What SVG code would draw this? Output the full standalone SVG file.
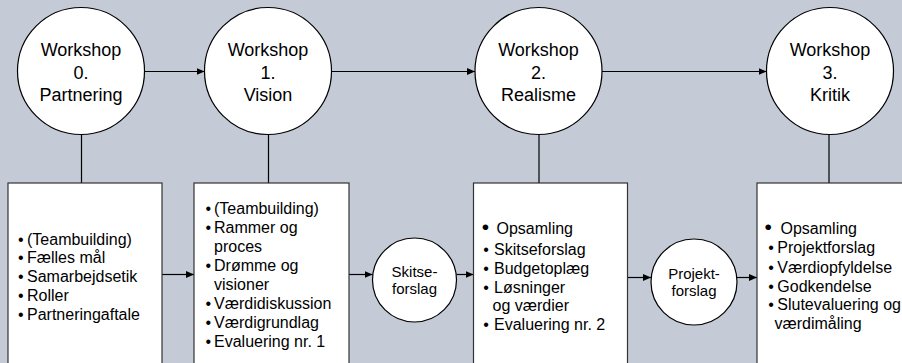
<svg xmlns="http://www.w3.org/2000/svg" width="902" height="363" viewBox="0 0 902 363">
<defs>
<marker id="ah" markerUnits="userSpaceOnUse" markerWidth="9" markerHeight="8" refX="8" refY="3.5" orient="auto">
<path d="M0,0 L8,3.5 L0,7 z" fill="#000"/>
</marker>
<style>
.bg{fill:#C4CAD6}
.ws{fill:#fff;stroke:#000;stroke-width:1.2}
.box{fill:#fff;stroke:#333;stroke-width:1.2}
.t{font-family:"Liberation Sans",Arial,sans-serif;fill:#000}
.big{font-size:18px;text-anchor:middle}
.sm{font-size:15px;text-anchor:middle}
.li{font-size:16px}
.bb{font-size:21px}
.c{stroke:#000;stroke-width:1.2;fill:none}
.a{marker-end:url(#ah)}
</style>
</defs>
<rect class="bg" x="0" y="0" width="902" height="363"/>

<g id="connectors">
<line class="c a" x1="144.5" y1="71.5" x2="204.5" y2="71.5"/>
<line class="c a" x1="331.5" y1="71.5" x2="475" y2="71.5"/>
<line class="c a" x1="601.5" y1="71.5" x2="766.5" y2="71.5"/>
<line class="c" x1="81.5" y1="135" x2="81.5" y2="183"/>
<line class="c" x1="268.5" y1="135" x2="268.5" y2="183"/>
<line class="c" x1="539" y1="135" x2="539" y2="183"/>
<line class="c" x1="829" y1="135" x2="829" y2="183"/>
<line class="c a" x1="162" y1="274.5" x2="194" y2="274.5"/>
<line class="c a" x1="349" y1="274.5" x2="372.5" y2="274.5"/>
<line class="c a" x1="456.5" y1="274.5" x2="473.5" y2="274.5"/>
<line class="c a" x1="627.5" y1="277.5" x2="651" y2="277.5"/>
<line class="c a" x1="737" y1="277.5" x2="757" y2="277.5"/>
</g>

<g id="ws0">
<circle class="ws" cx="81" cy="71" r="63.5"/>
<text class="t big" x="81" y="56">Workshop</text>
<text class="t big" x="81" y="78.5">0.</text>
<text class="t big" x="81" y="100.5">Partnering</text>
</g>
<g id="ws1">
<circle class="ws" cx="268" cy="71" r="63.5"/>
<text class="t big" x="268" y="56">Workshop</text>
<text class="t big" x="268" y="78.5">1.</text>
<text class="t big" x="268" y="100.5">Vision</text>
</g>
<g id="ws2">
<circle class="ws" cx="538.5" cy="71" r="63.5"/>
<text class="t big" x="538.5" y="56">Workshop</text>
<text class="t big" x="538.5" y="78.5">2.</text>
<text class="t big" x="538.5" y="100.5">Realisme</text>
</g>
<g id="ws3">
<circle class="ws" cx="830" cy="71" r="63.5"/>
<text class="t big" x="830" y="56">Workshop</text>
<text class="t big" x="830" y="78.5">3.</text>
<text class="t big" x="830" y="100.5">Kritik</text>
</g>

<g id="box0">
<rect class="box" x="8" y="183" width="154" height="190"/>
<text class="t li" x="18" y="244.5">•</text><text class="t li" x="27" y="244.5">(Teambuilding)</text>
<text class="t li" x="18" y="263">•</text><text class="t li" x="27" y="263">Fælles mål</text>
<text class="t li" x="18" y="282">•</text><text class="t li" x="27" y="282">Samarbejdsetik</text>
<text class="t li" x="18" y="301">•</text><text class="t li" x="27" y="301">Roller</text>
<text class="t li" x="18" y="320">•</text><text class="t li" x="27" y="320">Partneringaftale</text>
</g>

<g id="box1">
<rect class="box" x="194" y="183" width="155" height="190"/>
<text class="t li" x="205.5" y="213.5">•</text><text class="t li" x="214" y="213.5">(Teambuilding)</text>
<text class="t li" x="205.5" y="232.5">•</text><text class="t li" x="214" y="232.5">Rammer og</text>
<text class="t li" x="214" y="251.5">proces</text>
<text class="t li" x="205.5" y="270.5">•</text><text class="t li" x="214" y="270.5">Drømme og</text>
<text class="t li" x="214" y="289.5">visioner</text>
<text class="t li" x="205.5" y="308.5">•</text><text class="t li" x="214" y="308.5">Værdidiskussion</text>
<text class="t li" x="205.5" y="327.5">•</text><text class="t li" x="214" y="327.5">Værdigrundlag</text>
<text class="t li" x="205.5" y="346.5">•</text><text class="t li" x="214" y="346.5">Evaluering nr. 1</text>
</g>

<g id="skitse">
<circle class="ws" cx="414.5" cy="280" r="42"/>
<text class="t sm" x="414.5" y="276.5">Skitse-</text>
<text class="t sm" x="414.5" y="294">forslag</text>
</g>

<g id="box2">
<rect class="box" x="473.5" y="183" width="154" height="190"/>
<text class="t bb" x="481.8" y="234">•</text><text class="t li" x="496.5" y="234">Opsamling</text>
<text class="t li" x="483.3" y="254.5">•</text><text class="t li" x="494" y="254.5">Skitseforslag</text>
<text class="t li" x="483.3" y="273.5">•</text><text class="t li" x="494" y="273.5">Budgetoplæg</text>
<text class="t li" x="483.3" y="292.5">•</text><text class="t li" x="494" y="292.5">Løsninger</text>
<text class="t li" x="492.5" y="311">og værdier</text>
<text class="t li" x="483.3" y="330">•</text><text class="t li" x="494" y="330">Evaluering nr. 2</text>
</g>

<g id="projekt">
<circle class="ws" cx="694" cy="282" r="43"/>
<text class="t sm" x="694" y="278.5">Projekt-</text>
<text class="t sm" x="694" y="296">forslag</text>
</g>

<g id="box3">
<rect class="box" x="757" y="183" width="155" height="190"/>
<text class="t bb" x="764.5" y="234">•</text><text class="t li" x="780.5" y="234">Opsamling</text>
<text class="t li" x="768.3" y="253.3">•</text><text class="t li" x="777.3" y="253.3">Projektforslag</text>
<text class="t li" x="768.3" y="272.5">•</text><text class="t li" x="777.3" y="272.5">Værdiopfyldelse</text>
<text class="t li" x="768.3" y="291.5">•</text><text class="t li" x="777.3" y="291.5">Godkendelse</text>
<text class="t li" x="768.3" y="310">•</text><text class="t li" x="777.3" y="310">Slutevaluering og</text>
<text class="t li" x="774.5" y="329">værdimåling</text>
</g>
</svg>
